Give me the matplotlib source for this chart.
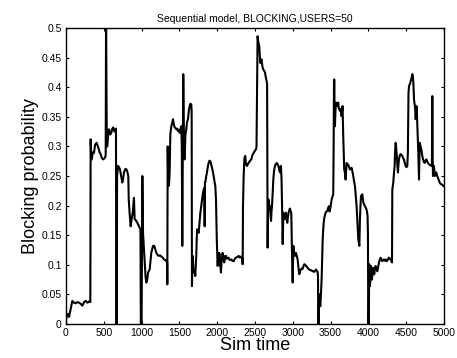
import numpy as np
import matplotlib
matplotlib.use("Agg")
import matplotlib.pyplot as plt

plt.rcParams['font.family'] = ['Liberation Sans', 'DejaVu Sans']

# (sim time, blocking probability)
sim_time = [
    0, 10, 26, 40, 53, 70, 84, 105, 128, 150, 172, 195, 216, 240, 260, 285, 304, 322,
    326, 334, 340, 355, 370, 385, 405, 427, 445, 458, 475, 493, 516, 525, 530, 540,
    547, 558, 569, 585, 599, 612, 626, 640, 657, 661, 666, 672, 676, 688,
    700, 714, 730, 745, 755, 767, 785, 802, 815, 824, 830, 840, 855, 868, 885, 899,
    908, 925, 943, 966, 985, 990, 1000, 1010, 1019, 1030, 1040, 1052, 1062, 1075,
    1085, 1107, 1120, 1128, 1151, 1165, 1173, 1195, 1210, 1226, 1245, 1261, 1280,
    1296, 1315, 1327, 1338, 1340, 1345, 1352, 1358, 1365, 1371, 1380, 1393, 1405,
    1415, 1425, 1438, 1460, 1470, 1481, 1492, 1503, 1515, 1525, 1532, 1538, 1545,
    1551, 1558, 1563, 1569, 1580, 1591, 1600, 1613, 1625, 1635, 1645, 1657, 1662,
    1666, 1672, 1677, 1682, 1688, 1700, 1710, 1718, 1723, 1733, 1744, 1755, 1765,
    1777, 1790, 1799, 1810, 1821, 1830, 1834, 1838, 1843, 1855, 1865, 1875, 1887,
    1898, 1909, 1920, 1931, 1942, 1953, 1965, 1975, 1984, 1995, 2006, 2015, 2022,
    2028, 2040, 2050, 2060, 2072, 2083, 2094, 2105, 2116, 2130, 2151, 2165, 2186,
    2200, 2218, 2232, 2247, 2265, 2284, 2300, 2319, 2330, 2337, 2341, 2350, 2360,
    2371, 2380, 2394, 2405, 2416, 2430, 2451, 2465, 2482, 2500, 2513, 2520, 2534,
    2545, 2556, 2562, 2569, 2578, 2587, 2598, 2609, 2620, 2632, 2645, 2654, 2660,
    2667, 2672, 2680, 2690, 2698, 2705, 2712, 2718, 2725, 2733, 2742, 2753, 2764,
    2775, 2787, 2798, 2809, 2820, 2831, 2837, 2843, 2851, 2858, 2866, 2875, 2885,
    2892, 2900, 2910, 2918, 2927, 2935, 2945, 2955, 2963, 2972, 2980, 2989, 2998,
    3003, 3007, 3015, 3025, 3035, 3042, 3052, 3064, 3075, 3086, 3097, 3108, 3120,
    3130, 3141, 3152, 3163, 3174, 3185, 3196, 3207, 3218, 3230, 3240, 3251, 3262,
    3273, 3284, 3295, 3307, 3318, 3328, 3333, 3337, 3343, 3348, 3355, 3363, 3370,
    3381, 3388, 3395, 3405, 3413, 3425, 3434, 3445, 3456, 3467, 3479, 3485, 3492,
    3502, 3513, 3525, 3535, 3540, 3545, 3550, 3552, 3557, 3564, 3571, 3580, 3588,
    3595, 3601, 3608, 3614, 3623, 3632, 3640, 3645, 3652, 3658, 3663, 3667, 3674,
    3680, 3690, 3698, 3705, 3711, 3722, 3733, 3744, 3755, 3766, 3777, 3788, 3800,
    3811, 3822, 3833, 3844, 3855, 3866, 3880, 3888, 3895, 3902, 3910, 3919, 3926,
    3933, 3944, 3954, 3965, 3976, 3983, 3989, 3994, 3998, 4005, 4011, 4020, 4027,
    4033, 4040, 4046, 4055, 4063, 4070, 4077, 4085, 4095, 4105, 4117, 4128, 4139,
    4150, 4161, 4172, 4183, 4194, 4205, 4216, 4228, 4240, 4250, 4260, 4272, 4283,
    4295, 4305, 4312, 4316, 4322, 4329, 4338, 4347, 4352, 4360, 4366, 4373, 4382,
    4391, 4398, 4404, 4415, 4426, 4437, 4448, 4459, 4470, 4481, 4492, 4503, 4514,
    4522, 4530, 4537, 4548, 4559, 4570, 4581, 4588, 4594, 4599, 4603, 4610, 4616,
    4620, 4625, 4632, 4638, 4643, 4647, 4653, 4660, 4665, 4669, 4674, 4678, 4690,
    4700, 4711, 4722, 4733, 4744, 4755, 4766, 4777, 4788, 4799, 4810, 4821, 4832,
    4840, 4845, 4850, 4854, 4860, 4867, 4873, 4880, 4889, 4898, 4909, 4920, 4931,
    4942, 4953, 4965, 4978, 4990, 5000,
]
blocking_prob = [
    0.005, 0.015, 0.017, 0.012, 0.02, 0.03, 0.039, 0.036, 0.035, 0.037, 0.036, 0.034, 0.031, 0.037, 0.039, 0.036, 0.038, 0.037,
    0.312, 0.28, 0.278, 0.29, 0.289, 0.303, 0.306, 0.298, 0.29, 0.287, 0.28, 0.278, 0.281, 0.285, 0.52, 0.3,
    0.30, 0.32, 0.329, 0.32, 0.323, 0.33, 0.332, 0.325, 0.329, 0.33, 0.0, 0.0, 0.25, 0.267,
    0.265, 0.261, 0.25, 0.239, 0.245, 0.256, 0.262, 0.261, 0.255, 0.25, 0.21, 0.19, 0.165, 0.177, 0.19, 0.213,
    0.177, 0.175, 0.171, 0.165, 0.16, 0.0, 0.0, 0.25, 0.154, 0.13, 0.109, 0.08, 0.07, 0.075,
    0.087, 0.092, 0.11, 0.12, 0.132, 0.132, 0.13, 0.12, 0.117, 0.115, 0.116, 0.114, 0.112,
    0.109, 0.108, 0.106, 0.104, 0.067, 0.30, 0.24, 0.233, 0.24, 0.256, 0.32, 0.334, 0.34,
    0.346, 0.338, 0.332, 0.329, 0.33, 0.326, 0.328, 0.323, 0.33, 0.334, 0.3, 0.132, 0.3,
    0.422, 0.33, 0.28, 0.278, 0.32, 0.329, 0.34, 0.346, 0.36, 0.368, 0.372, 0.371, 0.36,
    0.064, 0.1, 0.115, 0.1, 0.087, 0.09, 0.081, 0.1, 0.115, 0.16, 0.158, 0.154, 0.17,
    0.188, 0.2, 0.21, 0.22, 0.227, 0.23, 0.165, 0.24, 0.239, 0.25, 0.256, 0.265, 0.272,
    0.276, 0.275, 0.27, 0.264, 0.258, 0.25, 0.24, 0.233, 0.21, 0.14, 0.098, 0.12, 0.1,
    0.12, 0.1, 0.087, 0.11, 0.12, 0.11, 0.104, 0.115, 0.115, 0.11, 0.112, 0.108, 0.109,
    0.107, 0.106, 0.11, 0.112, 0.113, 0.115, 0.112, 0.114, 0.112, 0.101, 0.199, 0.25, 0.28,
    0.284, 0.27, 0.267, 0.27, 0.272, 0.275, 0.278, 0.285, 0.289, 0.293, 0.295, 0.3, 0.486,
    0.475, 0.47, 0.455, 0.441, 0.445, 0.447, 0.435, 0.43, 0.428, 0.425, 0.415, 0.41, 0.405,
    0.129, 0.19, 0.21, 0.2, 0.199, 0.185, 0.174, 0.19, 0.199, 0.22, 0.244, 0.26, 0.267,
    0.27, 0.272, 0.27, 0.267, 0.26, 0.256, 0.265, 0.267, 0.244, 0.2, 0.135, 0.188, 0.18,
    0.177, 0.185, 0.188, 0.178, 0.171, 0.18, 0.188, 0.193, 0.195, 0.19, 0.188, 0.12, 0.07,
    0.1, 0.132, 0.125, 0.115, 0.118, 0.12, 0.115, 0.109, 0.095, 0.084, 0.09, 0.092, 0.094,
    0.093, 0.098, 0.101, 0.1, 0.098, 0.097, 0.095, 0.093, 0.092, 0.091, 0.091, 0.09, 0.089,
    0.089, 0.088, 0.09, 0.092, 0.09, 0.088, 0.08, 0.0, 0.0, 0.05, 0.045, 0.03, 0.045,
    0.075, 0.11, 0.143, 0.165, 0.177, 0.184, 0.188, 0.19, 0.191, 0.196, 0.199, 0.19, 0.193,
    0.2, 0.21, 0.215, 0.22, 0.3, 0.413, 0.413, 0.35, 0.334, 0.36, 0.374, 0.37, 0.368,
    0.372, 0.374, 0.365, 0.363, 0.36, 0.363, 0.358, 0.351, 0.36, 0.368, 0.34, 0.318, 0.29,
    0.261, 0.255, 0.244, 0.26, 0.272, 0.27, 0.269, 0.265, 0.261, 0.262, 0.264, 0.258, 0.25,
    0.24, 0.233, 0.215, 0.199, 0.17, 0.143, 0.132, 0.177, 0.2, 0.216, 0.218, 0.219, 0.212,
    0.205, 0.202, 0.199, 0.196, 0.193, 0.188, 0.182, 0.15, 0.0, 0.0, 0.101, 0.064, 0.08,
    0.098, 0.09, 0.075, 0.085, 0.095, 0.09, 0.084, 0.092, 0.098, 0.095, 0.089, 0.095, 0.104,
    0.108, 0.112, 0.109, 0.106, 0.108, 0.109, 0.107, 0.109, 0.106, 0.107, 0.11, 0.112, 0.11,
    0.109, 0.106, 0.104, 0.227, 0.232, 0.239, 0.255, 0.267, 0.29, 0.306, 0.3, 0.289, 0.27,
    0.256, 0.27, 0.278, 0.285, 0.287, 0.286, 0.284, 0.28, 0.278, 0.272, 0.267, 0.265, 0.267,
    0.289, 0.39, 0.402, 0.405, 0.41, 0.415, 0.422, 0.418, 0.408, 0.39, 0.38, 0.372, 0.368,
    0.36, 0.346, 0.36, 0.368, 0.35, 0.334, 0.31, 0.289, 0.26, 0.244, 0.28, 0.306, 0.3,
    0.295, 0.285, 0.278, 0.274, 0.272, 0.276, 0.278, 0.275, 0.272, 0.27, 0.269, 0.268, 0.267,
    0.27, 0.385, 0.28, 0.25, 0.26, 0.267, 0.258, 0.25, 0.254, 0.256, 0.25, 0.247, 0.243,
    0.239, 0.237, 0.236, 0.235, 0.233, 0.233,
]

x_ticks = np.arange(0, 5001, 500)
y_ticks = np.arange(0, 0.501, 0.05)
y_tick_labels = ['0', '0.05', '0.1', '0.15', '0.2', '0.25', '0.3', '0.35', '0.4', '0.45', '0.5']

fig = plt.figure(figsize=(4.57, 3.58), dpi=100)
ax = fig.add_axes([0.1444, 0.095, 0.8272, 0.8268])

ax.plot(sim_time, blocking_prob, color='black', linewidth=1.5)

ax.set_xlim(0, 5000)
ax.set_ylim(0, 0.5)
ax.set_xticks(x_ticks)
ax.set_xticklabels([str(int(t)) for t in x_ticks])
ax.set_yticks(y_ticks)
ax.set_yticklabels(y_tick_labels)

ax.tick_params(direction='in', length=2.5, width=0.8, labelsize=7.5,
               top=True, right=True, pad=3)
for s in ax.spines.values():
    s.set_linewidth(1.0)

ax.set_title('Sequential model, BLOCKING,USERS=50', fontsize=7.5, pad=4)
ax.set_xlabel('Sim time', fontsize=13, labelpad=-1)
ax.set_ylabel('Blocking probability', fontsize=13, labelpad=2)

fig.savefig('out.png', dpi=100)
